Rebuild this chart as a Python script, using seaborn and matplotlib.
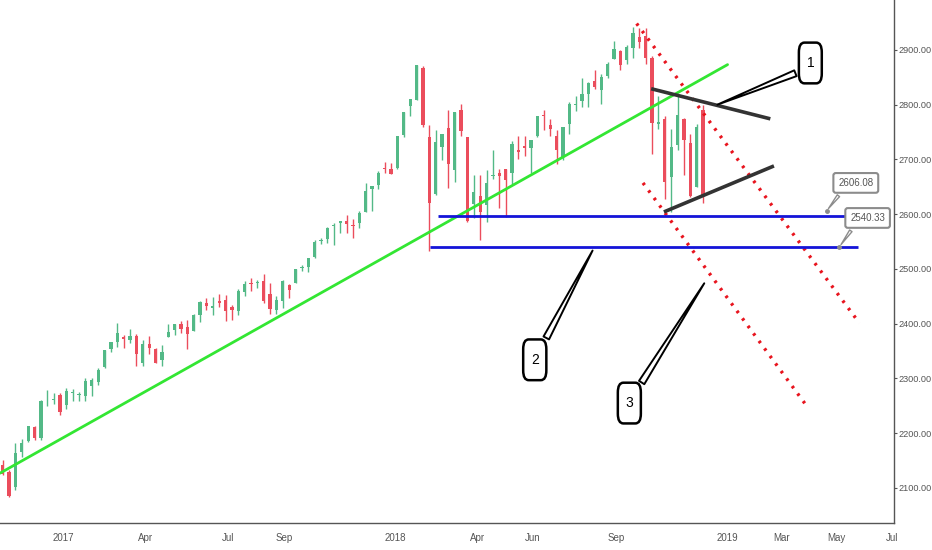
import matplotlib
matplotlib.use("Agg")
import matplotlib.pyplot as plt
import matplotlib.dates as mdates
import numpy as np
import pandas as pd
import seaborn as sns

# weekly candles (week starting Monday), S&P 500 style index
first_week = "2016-10-24"
opens = [2142, 2129, 2101, 2165, 2186, 2212, 2192, 2258, 2260, 2270,
         2251, 2273, 2270, 2267, 2286, 2294, 2321, 2354, 2367, 2375,
         2371, 2378, 2329, 2363, 2354, 2333, 2375, 2388, 2400, 2393,
         2387, 2415, 2437, 2429, 2442, 2443, 2431, 2424, 2458, 2473,
         2475, 2478, 2454, 2425, 2442, 2470, 2474, 2502, 2504, 2521,
         2551, 2555, 2579, 2583, 2588, 2580, 2583, 2603, 2645, 2653,
         2685, 2683,
         2684, 2745, 2798, 2809, 2867, 2741, 2636, 2722, 2757, 2681,
         2791, 2741, 2619, 2633, 2617, 2670, 2675, 2682, 2675, 2718,
         2725, 2720, 2742, 2781, 2763, 2742, 2705, 2765, 2799, 2806,
         2819, 2843, 2827, 2853, 2884, 2897, 2881, 2903, 2924, 2926,
         2886, 2764, 2773, 2667, 2726, 2773, 2730, 2650, 2790]
highs = [2151, 2133, 2182, 2189, 2214, 2214, 2260, 2278, 2273, 2273,
         2283, 2280, 2276, 2301, 2300, 2319, 2352, 2367, 2401, 2379,
         2390, 2382, 2371, 2378, 2356, 2361, 2399, 2400, 2404, 2406,
         2418, 2441, 2446, 2448, 2454, 2453, 2434, 2464, 2477, 2484,
         2480, 2490, 2474, 2450, 2480, 2472, 2500, 2508, 2520, 2552,
         2557, 2576, 2583, 2588, 2598, 2592, 2605, 2657, 2652, 2679,
         2695, 2693,
         2743, 2787, 2811, 2873, 2870, 2763, 2754, 2747, 2790, 2787,
         2802, 2741, 2672, 2672, 2680, 2718, 2683, 2682, 2733, 2743,
         2742, 2736, 2779, 2791, 2774, 2753, 2760, 2804, 2816, 2848,
         2841, 2863, 2855, 2877, 2916, 2900, 2908, 2941, 2939, 2940,
         2889, 2816, 2779, 2755, 2815, 2775, 2747, 2765, 2800]
lows = [2123, 2084, 2097, 2156, 2184, 2187, 2187, 2249, 2253, 2234,
        2245, 2258, 2259, 2258, 2268, 2288, 2319, 2348, 2358, 2355,
        2364, 2323, 2323, 2344, 2328, 2322, 2375, 2379, 2383, 2353,
        2386, 2403, 2425, 2415, 2430, 2405, 2407, 2415, 2450, 2459,
        2466, 2437, 2417, 2417, 2428, 2446, 2474, 2496, 2495, 2520,
        2545, 2548, 2544, 2566, 2566, 2557, 2575, 2603, 2605, 2645,
        2676, 2673,
        2682, 2741, 2779, 2808, 2759, 2533, 2635, 2699, 2647, 2659,
        2742, 2585, 2593, 2553, 2586, 2664, 2612, 2594, 2655, 2701,
        2707, 2676, 2741, 2753, 2742, 2691, 2698, 2746, 2789, 2795,
        2796, 2828, 2802, 2848, 2884, 2864, 2874, 2886, 2903, 2874,
        2710, 2755, 2628, 2604, 2717, 2671, 2632, 2649, 2621]
closes = [2126, 2085, 2164, 2182, 2213, 2192, 2259, 2258, 2263, 2239,
          2277, 2275, 2271, 2295, 2297, 2316, 2351, 2367, 2383, 2372,
          2378, 2344, 2363, 2355, 2329, 2349, 2384, 2399, 2390, 2382,
          2416, 2439, 2432, 2433, 2438, 2423, 2425, 2459, 2472, 2472,
          2476, 2441, 2426, 2443, 2477, 2461, 2500, 2502, 2519, 2549,
          2553, 2575, 2581, 2588, 2582, 2579, 2602, 2642, 2652, 2675,
          2683, 2674,
          2743, 2786, 2810, 2873, 2762, 2620, 2732, 2747, 2691, 2786,
          2752, 2588, 2641, 2604, 2656, 2670, 2670, 2663, 2728, 2713,
          2721, 2735, 2779, 2780, 2755, 2718, 2760, 2801, 2802, 2819,
          2840, 2833, 2850, 2875, 2902, 2872, 2905, 2930, 2914, 2886,
          2767, 2768, 2659, 2723, 2781, 2736, 2633, 2760, 2633]

# drawn objects (date, price end points)
trend_dates = ["2016-10-23", "2019-01-01"]
trend_prices = [2127, 2873]
channel_top_dates = ["2018-09-23", "2019-05-26"]
channel_top_prices = [2948, 2401]
channel_bot_dates = ["2018-09-30", "2019-03-28"]
channel_bot_prices = [2657, 2252]
wedge_top_dates = ["2018-10-09", "2019-02-17"]
wedge_top_prices = [2829, 2774]
wedge_bot_dates = ["2018-10-23", "2019-02-21"]
wedge_bot_prices = [2604, 2688]
support_levels = [2596, 2540]
support_start = ["2018-02-17", "2018-02-08"]
support_end = ["2019-05-17", "2019-05-24"]

callout_text = ["1", "2", "3"]
callout_tip_dates = ["2018-12-18", "2018-08-07", "2018-12-08"]
callout_tip_prices = [2798, 2538, 2478]
callout_box_dates = ["2019-04-02", "2018-06-03", "2018-09-15"]
callout_box_prices = [2876, 2334, 2255]

price_labels = ["2606.08", "2540.33"]
price_values = [2606.08, 2540.33]
price_tip_dates = ["2019-04-20", "2019-05-04"]
price_box_dates = ["2019-05-22", "2019-06-04"]
price_box_prices = [2657, 2593]

y_ticks = [2100, 2200, 2300, 2400, 2500, 2600, 2700, 2800, 2900]
x_tick_dates = ["2017-01-01", "2017-04-01", "2017-07-01", "2017-09-01",
                "2018-01-01", "2018-04-01", "2018-06-01", "2018-09-01",
                "2019-01-01", "2019-03-01", "2019-05-01", "2019-07-01"]
x_tick_labels = ["2017", "Apr", "Jul", "Sep", "2018", "Apr", "Jun", "Sep",
                 "2019", "Mar", "May", "Jul"]

UP = "#53b987"
DOWN = "#eb4d5c"

sns.set_theme(style="white")
plt.rcParams['font.family'] = ['Liberation Sans', 'DejaVu Sans']

df = pd.DataFrame({"open": opens, "high": highs, "low": lows, "close": closes})
df["date"] = pd.date_range(first_week, periods=len(df), freq="W-MON") + pd.Timedelta(days=2)
df["up"] = df["close"] >= df["open"]


def d(s):
    return mdates.date2num(pd.Timestamp(s))


fig, ax = plt.subplots(figsize=(9.32, 5.5), dpi=100)
fig.subplots_adjust(left=0, right=894 / 932, bottom=27 / 550, top=1)

# candles
colors = np.where(df["up"], UP, DOWN)
xs = mdates.date2num(df["date"])
ax.vlines(xs, df["low"], df["high"], colors=colors, lw=1, zorder=2)
body_lo = np.minimum(df["open"], df["close"])
body_h = np.maximum(np.abs(df["close"] - df["open"]), 1.5)
ax.bar(xs, body_h, bottom=body_lo, width=3.6, color=colors, lw=0, zorder=3)

# trend / channel lines
sns.lineplot(x=[d(t) for t in trend_dates], y=trend_prices, ax=ax,
             color="#33e633", lw=2, zorder=4)
for dd, pp in [(channel_top_dates, channel_top_prices), (channel_bot_dates, channel_bot_prices)]:
    sns.lineplot(x=[d(t) for t in dd], y=pp, ax=ax, color="#e8141e", lw=2.4,
                 linestyle=(0, (0.8, 2.0)), zorder=4)
for dd, pp in [(wedge_top_dates, wedge_top_prices), (wedge_bot_dates, wedge_bot_prices)]:
    sns.lineplot(x=[d(t) for t in dd], y=pp, ax=ax, color="#333333", lw=2.6,
                 zorder=5, solid_capstyle="butt")
for lvl, s, e in zip(support_levels, support_start, support_end):
    ax.hlines(lvl, d(s), d(e), color="#1414d8", lw=2, zorder=5)

# numbered callouts
for txt, td, tp, bd, bp in zip(callout_text, callout_tip_dates, callout_tip_prices,
                               callout_box_dates, callout_box_prices):
    rel = (0.15, 0.12) if txt == "1" else (0.85, 0.88)
    ax.annotate(txt, xy=(d(td), tp), xytext=(d(bd), bp),
                ha="center", va="center", fontsize=10,
                color="black", zorder=8,
                bbox=dict(boxstyle="round,pad=0.55,rounding_size=0.4",
                          mutation_aspect=1.75,
                          fc="white", ec="black", lw=1.8),
                arrowprops=dict(arrowstyle="wedge,tail_width=0.45,shrink_factor=0.5",
                                fc="white", ec="black", lw=1.4, relpos=rel))

# price labels
for txt, lvl, td, bd, bp in zip(price_labels, price_values, price_tip_dates,
                                price_box_dates, price_box_prices):
    ax.plot(d(td), lvl, marker="o", ms=2.5, color="#8c8c8c", zorder=7)
    ax.annotate(txt, xy=(d(td), lvl), xytext=(d(bd), bp),
                ha="center", va="center", fontsize=7, color="#555555", zorder=8,
                bbox=dict(boxstyle="round,pad=0.5,rounding_size=0.25",
                          fc="white", ec="#8c8c8c", lw=1.5),
                arrowprops=dict(arrowstyle="wedge,tail_width=0.3,shrink_factor=0.5",
                                fc="white", ec="#8c8c8c", lw=1.0, relpos=(0.2, 0.1)))

# axes
ax.set_xlim(d("2016-10-23"), d("2019-07-03"))
ax.set_ylim(2036, 2991)
ax.yaxis.tick_right()
ax.set_yticks(y_ticks)
ax.set_yticklabels([f"{v:.2f}" for v in y_ticks])
ax.set_xticks([d(t) for t in x_tick_dates])
ax.set_xticklabels(x_tick_labels)
ax.set_xlabel("")
ax.set_ylabel("")
ax.tick_params(axis="both", colors="#555555", labelsize=7, length=3, width=0.8,
               labelcolor="#555555")
ax.tick_params(axis="y", pad=1, length=2.5, labelsize=6.6)
ax.tick_params(axis="x", pad=4)
for side in ["top", "left"]:
    ax.spines[side].set_visible(False)
for side in ["right", "bottom"]:
    ax.spines[side].set_color("#555555")
    ax.spines[side].set_linewidth(1)
ax.grid(False)
if ax.get_legend():
    ax.get_legend().remove()

fig.savefig("out.png", dpi=100)
